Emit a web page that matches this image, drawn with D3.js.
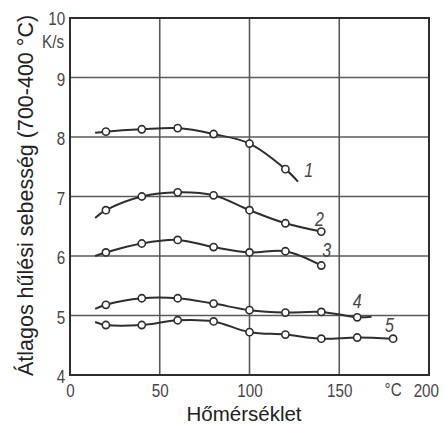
<!DOCTYPE html>
<html>
<head>
<meta charset="utf-8">
<script src="https://cdn.jsdelivr.net/npm/d3@7"></script>
<style>
  html, body { margin: 0; padding: 0; background: #fff; }
  svg { display: block; }
</style>
</head>
<body>
<svg id="chart" width="446" height="424"></svg>
<script>
// Measurement temperatures (°C) and average cooling rate (K/s) for curves 1–5
const temps = [20, 40, 60, 80, 100, 120, 140, 160, 180];
const curve1 = [8.09, 8.13, 8.15, 8.05, 7.89, 7.46];
const curve2 = [6.77, 7.00, 7.07, 7.02, 6.77, 6.55, 6.41];
const curve3 = [6.06, 6.21, 6.27, 6.15, 6.06, 6.08, 5.84];
const curve4 = [5.18, 5.29, 5.29, 5.20, 5.09, 5.05, 5.06, 4.97];
const curve5 = [4.84, 4.84, 4.92, 4.90, 4.72, 4.68, 4.61, 4.63, 4.61];

// Where each drawn curve begins (unmarked lead-in) and, for some, ends past the last marker
const leadTemp = 14;
const leadValues = [8.07, 6.64, 6.00, 5.11, 4.89];
const tailTemps = [127, null, null, 168, null];
const tailValues = [7.25, null, null, 4.98, null];

// Curve numbers and where they sit
const curveNames = ["1", "2", "3", "4", "5"];
const nameTemps = [133, 139, 143, 160, 178];
const nameValues = [7.45, 6.63, 6.10, 5.25, 4.85];

// Axis ticks and labels
const xTicks = [0, 50, 100, 150, 200];
const yTicks = [4, 5, 6, 7, 8, 9, 10];
const xUnit = "°C";
const xUnitAt = 180;
const yUnit = "K/s";
const xTitle = "Hőmérséklet";
const yTitle = "Átlagos hűlési sebesség (700-400 °C)";

const series = [curve1, curve2, curve3, curve4, curve5];

const W = 446, H = 424;
const margin = { top: 18, right: 17, bottom: 49, left: 70 };

const svg = d3.select("#chart");
const x = d3.scaleLinear().domain([0, 200]).range([margin.left, W - margin.right]);
const y = d3.scaleLinear().domain([4, 10]).range([H - margin.bottom, margin.top]);

const ink = "#2e2e2e";
const gridInk = "#5a5a5a";
const labelInk = "#464646";
const tickFont = "'Liberation Sans', Arial, Helvetica, sans-serif";
const titleFont = "'Liberation Sans', Arial, Helvetica, sans-serif";
const narrow = "scale(0.8,1)";   // condensed drafting-style lettering

// Grid lines
const grid = svg.append("g");
grid.selectAll("line.v")
  .data(xTicks.filter(d => d > 0 && d < 200))
  .join("line")
  .attr("x1", d => x(d)).attr("x2", d => x(d))
  .attr("y1", y(4)).attr("y2", y(10))
  .attr("stroke", gridInk).attr("stroke-width", 1.6);
grid.selectAll("line.h")
  .data(yTicks.filter(d => d > 4 && d < 10))
  .join("line")
  .attr("x1", x(0)).attr("x2", x(200))
  .attr("y1", d => y(d)).attr("y2", d => y(d))
  .attr("stroke", gridInk).attr("stroke-width", 1.6);

// Frame
svg.append("rect")
  .attr("x", x(0)).attr("y", y(10))
  .attr("width", x(200) - x(0)).attr("height", y(4) - y(10))
  .attr("fill", "none").attr("stroke", ink).attr("stroke-width", 2);

// Axes (labels only)
const xAxis = svg.append("g")
  .attr("transform", `translate(0,${y(4)})`)
  .call(d3.axisBottom(x).tickValues(xTicks).tickSize(0).tickPadding(9).tickFormat(d3.format("d")));
xAxis.select(".domain").remove();
xAxis.selectAll("text")
  .attr("font-family", tickFont).attr("font-size", 19).attr("fill", labelInk)
  .attr("transform", narrow)
  .attr("dx", d => d === 200 ? -4 : 0);

const yAxis = svg.append("g")
  .attr("transform", `translate(${x(0)},0)`)
  .call(d3.axisLeft(y).tickValues(yTicks).tickSize(0).tickPadding(6).tickFormat(d3.format("d")));
yAxis.select(".domain").remove();
yAxis.selectAll("text")
  .attr("font-family", tickFont).attr("font-size", 19).attr("fill", labelInk)
  .attr("transform", narrow)
  .attr("dy", d => d === 10 ? "0.36em" : "0.42em");

// Unit labels
svg.append("g")
  .attr("transform", `translate(${x(xUnitAt)},${y(4) + 21})`)
  .append("text")
  .attr("transform", narrow)
  .attr("text-anchor", "middle")
  .attr("font-family", tickFont).attr("font-size", 19).attr("fill", labelInk)
  .text(xUnit);
svg.append("g")
  .attr("transform", `translate(${x(0) - 6},${y(10) + 30})`)
  .append("text")
  .attr("transform", narrow)
  .attr("text-anchor", "end")
  .attr("font-family", tickFont).attr("font-size", 19).attr("fill", labelInk)
  .text(yUnit);

// Axis titles
svg.append("text")
  .attr("x", 244).attr("y", 421)
  .attr("text-anchor", "middle")
  .attr("font-family", titleFont).attr("font-size", 20.5).attr("fill", "#222")
  .text(xTitle);
svg.append("text")
  .attr("transform", `translate(33,${(12 + 379) / 2}) rotate(-90)`)
  .attr("text-anchor", "middle")
  .attr("font-family", titleFont).attr("font-size", 21.5).attr("fill", "#222")
  .text(yTitle);

// Curves
const line = d3.line()
  .x(d => x(d[0])).y(d => y(d[1]))
  .curve(d3.curveCatmullRom.alpha(0.5));

series.forEach((vals, i) => {
  const pts = vals.map((v, j) => [temps[j], v]);
  const path = [[leadTemp, leadValues[i]], ...pts];
  if (tailTemps[i] != null) path.push([tailTemps[i], tailValues[i]]);

  svg.append("path")
    .attr("d", line(path))
    .attr("fill", "none").attr("stroke", ink).attr("stroke-width", 2);

  svg.append("g").selectAll("circle")
    .data(pts)
    .join("circle")
    .attr("cx", d => x(d[0])).attr("cy", d => y(d[1]))
    .attr("r", 3.6)
    .attr("fill", "#fff").attr("stroke", ink).attr("stroke-width", 1.6);

  svg.append("g")
    .attr("transform", `translate(${x(nameTemps[i])},${y(nameValues[i])})`)
    .append("text")
    .attr("transform", narrow)
    .attr("dy", "0.36em")
    .attr("text-anchor", "middle")
    .attr("font-family", tickFont).attr("font-size", 20)
    .attr("font-style", "italic").attr("fill", labelInk)
    .text(curveNames[i]);
});
</script>
</body>
</html>
